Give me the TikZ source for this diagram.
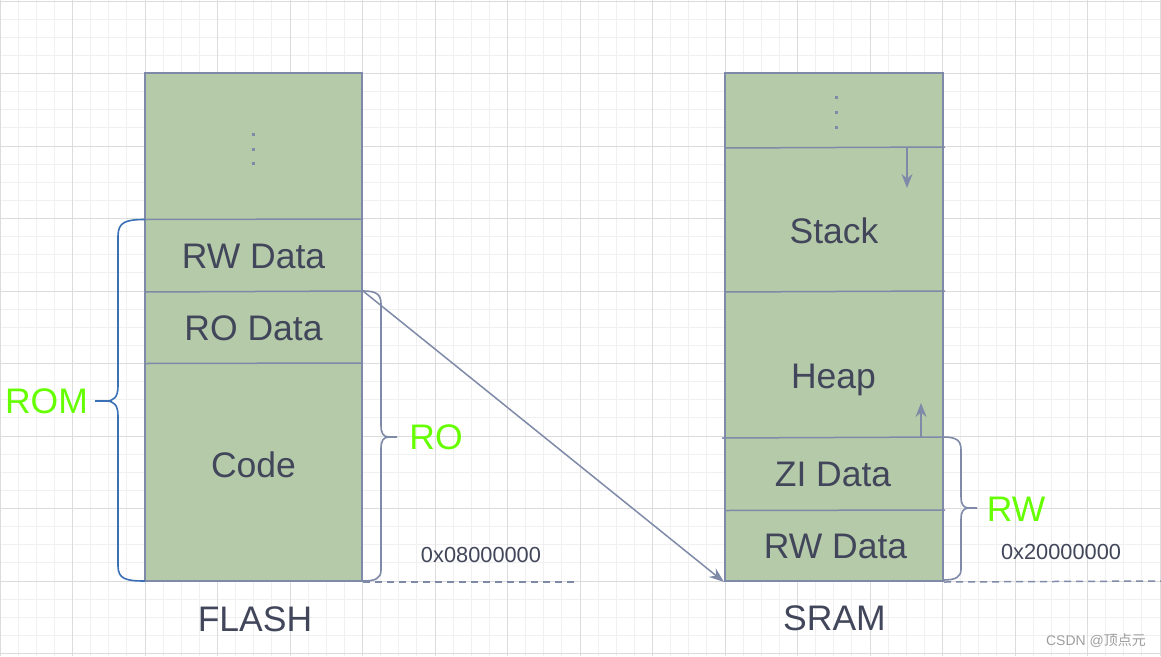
\documentclass[tikz,border=0pt]{standalone}
\usepackage{fontspec}
\setmainfont{Liberation Sans}
\newfontfamily\cjk{Noto Sans CJK SC}
\usetikzlibrary{arrows.meta}
\definecolor{memfill}{HTML}{B5CAA9}
\definecolor{outl}{HTML}{7F8AA8}
\definecolor{txt}{HTML}{41465A}
\definecolor{lime}{HTML}{66FF00}
\definecolor{bracblue}{HTML}{3A70B5}
\definecolor{gmajor}{HTML}{DCDCDC}
\definecolor{gminor}{HTML}{F0F0F0}
\definecolor{wmark}{HTML}{9E9E9E}
\tikzset{
  mem/.style={draw=outl, fill=memfill, line width=2pt, inner sep=0pt, rectangle},
  divider/.style={draw=outl, line width=1.5pt},
  lbl/.style={text=txt, inner sep=0pt, anchor=base, font=\fontsize{35.5}{40}\selectfont},
  grn/.style={text=lime, inner sep=0pt, anchor=base, font=\fontsize{35.5}{40}\selectfont},
  addr/.style={text=txt, inner sep=0pt, anchor=base, font=\fontsize{21.8}{25}\selectfont},
  conn/.style={draw=outl, line width=1.5pt, -{Stealth[length=15pt,width=11pt]}},
  brace/.style={draw=outl, line width=1.6pt},
  dashline/.style={draw=outl, line width=1.5pt, dash pattern=on 7pt off 5pt},
  dotsq/.style={fill=outl}
}
\begin{document}
\begin{tikzpicture}[x=1pt,y=-1pt]
\useasboundingbox (0,0) rectangle (1161,656);
\fill[white] (0,0) rectangle (1161,656);
% grid
\foreach \i in {0,...,64} \draw[gminor, line width=1pt] (\i*18.125,0) -- (\i*18.125,656);
\foreach \i in {0,...,36} \draw[gminor, line width=1pt] (0,1+\i*18.125) -- (1161,1+\i*18.125);
\foreach \i in {0,...,16} \draw[gmajor, line width=1pt] (\i*72.5,0) -- (\i*72.5,656);
\foreach \i in {0,...,9} \draw[gmajor, line width=1pt] (0,1+\i*72.5) -- (1161,1+\i*72.5);

% FLASH
\node[mem, minimum width=217pt, minimum height=508pt] (flash) at (253.5,327) {};
\draw[divider] (145,219.5) -- (363,219);
\draw[divider] (145,292) -- (363,291);
\draw[divider] (145,363.5) -- (363,363);
\foreach \y in {134,149,163} \fill[dotsq] (251.5,\y-1.5) rectangle ++(3,3);
\node[lbl] (frw) at (253.5,268.5) {RW Data};
\node[lbl] (fro) at (253.5,340.5) {RO Data};
\node[lbl] (fcode) at (253.5,477) {Code};
\node[lbl] (flashlbl) at (255,631) {FLASH};

% SRAM
\node[mem, minimum width=218pt, minimum height=508pt] (sram) at (834,327) {};
\draw[divider] (725,148) -- (945,147);
\draw[divider] (725,292) -- (945,291);
\draw[divider] (722,438) -- (943,437);
\draw[divider] (725,510.5) -- (945,510);
\foreach \y in {97.5,112,127} \fill[dotsq] (834.5,\y-1.5) rectangle ++(3,3);
\node[lbl] (sstack) at (834,243) {Stack};
\node[lbl] (sheap) at (833.5,388.5) {Heap};
\node[lbl] (szi) at (833,486) {ZI Data};
\node[lbl] (srw) at (835.5,558.5) {RW Data};
\node[lbl] (sramlbl) at (834.5,630.5) {SRAM};

% growth arrows
\coordinate (stk0) at (907,148);
\coordinate (stk1) at (907,188);
\draw[conn, -{Stealth[length=14pt,width=11pt]}] (stk0) -- (stk1);
\coordinate (hp0) at (921,437);
\coordinate (hp1) at (921,403);
\draw[conn, -{Stealth[length=14pt,width=11pt]}] (hp0) -- (hp1);

% copy arrow
\coordinate (cpstart) at (363,291);
\draw[conn] (cpstart) -- (sram.south west);

% ROM brace
\draw[brace, draw=bracblue]
  (145,219.5) .. controls (126,219.5) and (118,222) .. (118,236)
  -- (118,386) .. controls (118,397) and (114,401) .. (106,401) -- (95,401)
  (106,401) .. controls (114,401) and (118,405) .. (118,416)
  -- (118,566) .. controls (118,579) and (126,581) .. (145,581);
\node[grn] (romlbl) at (46.5,413) {ROM};

% RO brace
\draw[brace]
  (363,291) .. controls (376,291) and (381,294) .. (381,304)
  -- (381,425) .. controls (381,433) and (383,437) .. (389,437) -- (397,437)
  (389,437) .. controls (383,437) and (381,441) .. (381,449)
  -- (381,570) .. controls (381,578) and (376,581) .. (363,581);
\node[grn] (rolbl) at (436,449.5) {RO};

% RW brace
\draw[brace]
  (943,437) .. controls (956,437) and (961,440) .. (961,450)
  -- (961,497) .. controls (961,504) and (963,508) .. (969,508) -- (977,508)
  (969,508) .. controls (963,508) and (961,512) .. (961,519)
  -- (961,569) .. controls (961,577) and (956,580) .. (943,580);
\node[grn] (rwlbl) at (1016,521.5) {RW};

% addresses
\draw[dashline] (flash.south east) -- ++(213,0) coordinate (fend);
\draw[dashline] (sram.south east) -- (1161,581);
\node[addr] (faddr) at (481,562) {0x08000000};
\node[addr] (saddr) at (1061,559.5) {0x20000000};

% watermark
\node[text=wmark, inner sep=0pt, anchor=base, font=\fontsize{14}{16}\selectfont] (wm) at (1096,645) {CSDN @{\cjk 顶点元}};
\end{tikzpicture}
\end{document}
